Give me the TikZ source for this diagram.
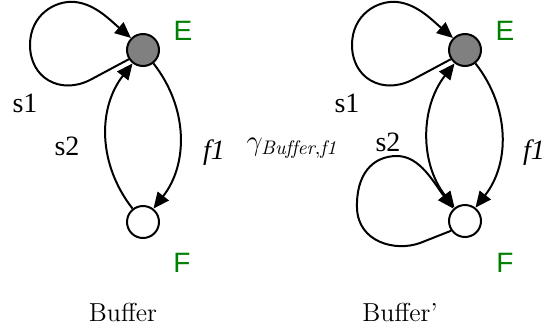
\documentclass[tikz,border=0pt]{standalone}
\usepackage{fontspec}
\newfontfamily\tmsfont{Liberation Serif}
\newfontfamily\arsfont{Liberation Sans}
\usetikzlibrary{arrows.meta}
\definecolor{lblgreen}{RGB}{0,128,0}
\begin{document}
\begin{tikzpicture}[x=0.5pt,y=-0.5pt,
  state/.style={circle,draw,line width=1pt,minimum size=16pt,inner sep=0pt},
  estate/.style={state,fill=gray},
  fstate/.style={state,fill=white},
  arr/.style={line width=1pt,-{Triangle[length=8pt,width=7pt]}},
  biarr/.style={line width=1pt,{Triangle[length=8pt,width=7pt]}-{Triangle[length=8pt,width=7pt]}},
  edgelbl/.style={font=\tmsfont\fontsize{14}{16}\selectfont,anchor=base,inner sep=0pt},
  statelbl/.style={font=\arsfont\fontsize{14}{16}\selectfont,text=lblgreen,anchor=base,inner sep=0pt},
  caplbl/.style={font=\fontsize{13}{15}\selectfont,anchor=base,inner sep=0pt}]
\useasboundingbox (0,0) rectangle (545,333);
% left diagram
\node[estate] (E1) at (143,50) {};
\node[fstate] (F1) at (143,222) {};
\node[statelbl] (E1l) at (183,40) {E};
\node[statelbl] (F1l) at (182,272) {F};
\draw[arr] (E1.213) -- (90,80) .. controls (60,95) and (30,78) .. (30,45)
  .. controls (30,15) and (55,0) .. (75,2) .. controls (95,4) and (110,20) .. (E1.135);
\draw[arr] (E1) to[bend left=38] (F1);
\draw[arr] (F1) to[bend left=38] (E1);
\node[edgelbl] (s1a) at (25,112) {s1};
\node[edgelbl] (s2a) at (67,155) {s2};
\node[edgelbl] (f1a) at (214,159) {\itshape f1};
\node[caplbl] (cap1) at (123,321) {Buffer};
% right diagram
\node[estate] (E2) at (465,50) {};
\node[fstate] (F2) at (465,221) {};
\node[statelbl] (E2l) at (505,40) {E};
\node[statelbl] (F2l) at (505,272) {F};
\draw[arr] (E2.213) -- (412,80) .. controls (382,95) and (352,78) .. (352,45)
  .. controls (352,15) and (377,0) .. (397,2) .. controls (417,4) and (432,20) .. (E2.135);
\draw[arr] (E2) to[bend left=38] (F2);
\draw[biarr] (F2) to[bend left=38] (E2);
\draw[arr] (F2.215) -- (420,243) .. controls (395,252) and (358,242) .. (357,208)
  .. controls (356,175) and (372,156) .. (397,156) .. controls (420,156) and (434,183) .. (F2.133);
\node[edgelbl] (s1b) at (347,112) {s1};
\node[edgelbl] (s2b) at (388,151) {s2};
\node[edgelbl] (f1b) at (534,159) {\itshape f1};
\node[font=\fontsize{14}{16}\selectfont,inner sep=0pt] (gam) at (292,148) {$\gamma_{\mathit{Buffer},\mathit{f1}}$};
\node[caplbl] (cap2) at (400,321) {Buffer'};
\end{tikzpicture}
\end{document}
